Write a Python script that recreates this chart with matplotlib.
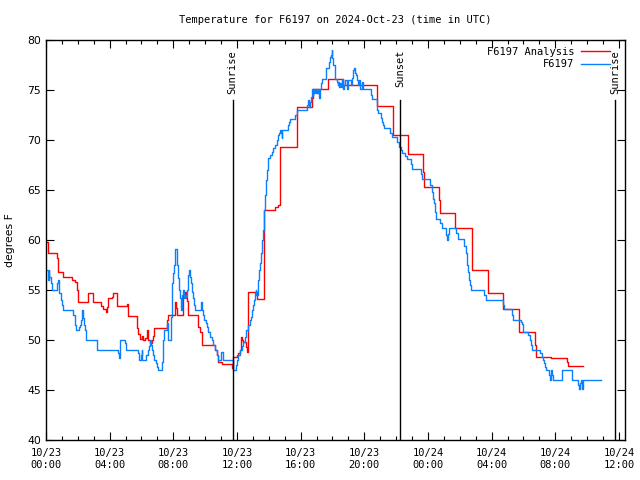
import matplotlib
matplotlib.use("Agg")
import matplotlib.pyplot as plt
import matplotlib.dates as mdates
import pandas as pd

DAY0 = pd.Timestamp("2024-10-23 00:00")

# F6197 Analysis (hours after 10/23 00:00 UTC, deg F), step series
analysis_hours = [
    0.04, 0.14, 0.67, 0.73, 0.77, 1.05, 1.61, 1.82, 1.93, 2.03, 2.66, 2.97,
    3.44, 3.60, 3.75, 3.81, 3.91, 4.13, 4.23, 4.48, 5.11, 5.17, 5.70, 5.75,
    5.90, 6.05, 6.11, 6.22, 6.36, 6.43, 6.53, 6.64, 6.74, 6.80, 7.58, 7.68,
    8.10, 8.17, 8.23, 8.62, 8.73, 8.79, 8.84, 8.90, 9.57, 9.67, 9.82, 10.62,
    10.72, 10.79, 11.07, 11.66, 11.73, 11.98, 12.06, 12.19, 12.25, 12.33,
    12.39, 12.56, 12.63, 12.67, 12.71, 13.23, 13.67, 13.71, 14.38, 14.57,
    14.70, 15.75, 15.79, 16.69, 16.79, 17.73, 18.67, 20.77, 20.81, 21.78,
    22.76, 23.70, 23.74, 24.69, 24.75, 25.69, 26.74, 26.78, 27.78, 28.72,
    29.73, 30.72, 30.76, 31.76, 32.75, 32.81, 33.75,
]
analysis_temp = [
    59.8, 58.7, 58.2, 57.3, 56.8, 56.3, 56.0, 55.8, 55.0, 53.8, 54.7, 53.8,
    53.4, 53.1, 52.8, 53.3, 54.2, 54.3, 54.7, 53.4, 53.6, 52.4, 51.2, 50.6,
    50.1, 50.4, 50.0, 50.2, 51.0, 50.0, 49.7, 50.0, 50.4, 51.2, 52.0, 52.5,
    53.8, 53.2, 52.5, 54.5, 54.8, 54.2, 53.9, 52.5, 51.3, 50.8, 49.5, 49.0,
    48.5, 47.8, 47.6, 47.2, 48.3, 48.5, 48.7, 49.0, 50.3, 50.0,
    49.8, 49.3, 48.8, 51.5, 54.8, 54.1, 61.2, 63.0, 63.3, 63.5,
    69.3, 71.3, 73.3, 74.2, 75.1, 76.1, 75.5, 74.2, 73.4, 70.5,
    68.6, 66.8, 65.3, 64.0, 62.7, 61.2, 60.0, 57.0, 54.7, 53.1,
    50.8, 49.5, 48.3, 48.2, 47.8, 47.4, 47.4,
]

# F6197 observations
obs_hours = [
    0.04, 0.10, 0.17, 0.21, 0.29, 0.36, 0.67, 0.71, 0.77, 0.82, 0.84, 0.92,
    1.03, 1.09, 1.72, 1.82, 1.88, 2.09, 2.14, 2.20, 2.28, 2.34, 2.39, 2.45,
    2.51, 3.18, 4.54, 4.60, 4.67, 4.96, 5.04, 5.80, 5.84, 5.97, 6.01, 6.05,
    6.28, 6.43, 6.47, 6.53, 6.59, 6.64, 6.74, 6.80, 6.89, 6.95, 7.04, 7.27,
    7.33, 7.37, 7.43, 7.62, 7.68, 7.85, 7.89, 7.93, 7.99, 8.06, 8.10, 8.21,
    8.25, 8.31, 8.37, 8.42, 8.46, 8.52, 8.56, 8.62, 8.67, 8.73, 8.79, 8.84,
    8.90, 8.94, 9.00, 9.05, 9.11, 9.15, 9.21, 9.30, 9.36, 9.74, 9.78, 9.88,
    9.94, 10.03, 10.09, 10.19, 10.30, 10.41, 10.51, 10.62, 10.72, 10.79,
    10.99, 11.12, 11.73, 11.92, 11.98, 12.08, 12.19, 12.30, 12.39, 12.50,
    12.56, 12.71, 12.81, 12.88, 12.92, 13.02, 13.08, 13.13, 13.17, 13.21,
    13.34, 13.40, 13.44, 13.51, 13.55, 13.59, 13.65, 13.71, 13.76, 13.80,
    13.86, 13.92, 13.97, 14.07, 14.18, 14.28, 14.38, 14.49, 14.59, 14.65,
    14.70, 14.76, 14.80, 14.84, 15.18, 15.24, 15.33, 15.64, 15.75, 16.38,
    16.48, 16.54, 16.58, 16.63, 16.69, 16.75, 16.79, 16.83, 16.90, 16.96,
    17.00, 17.04, 17.10, 17.17, 17.21, 17.27, 17.32, 17.59, 17.80, 17.84,
    17.90, 17.94, 17.98, 18.00, 18.04, 18.19, 18.26, 18.32, 18.36, 18.40,
    18.47, 18.51, 18.57, 18.63, 18.67, 18.74, 18.78, 18.89, 18.99, 19.14,
    19.20, 19.27, 19.31, 19.37, 19.41, 19.47, 19.51, 19.58, 19.62, 19.68,
    19.72, 19.76, 19.83, 19.89, 19.93, 20.41, 20.46, 20.81, 20.89, 21.02,
    21.09, 21.15, 21.23, 21.61, 21.71, 22.07, 22.19, 22.28, 22.36, 22.55,
    22.66, 22.93, 22.97, 23.56, 23.60, 24.12, 24.23, 24.29, 24.39, 24.44,
    24.48, 24.75, 24.86, 25.11, 25.17, 25.27, 25.31, 25.75, 25.86, 26.26,
    26.36, 26.43, 26.49, 26.57, 26.63, 26.70, 27.53, 27.62, 28.72, 28.77,
    29.25, 29.35, 29.82, 29.88, 29.94, 29.98, 30.29, 30.40, 30.46, 30.55,
    31.03, 31.14, 31.20, 31.28, 31.34, 31.41, 31.61, 31.66, 31.70, 31.76,
    31.80, 31.86, 32.45, 33.02, 33.08, 33.44, 33.48, 33.54, 33.59, 33.65,
    33.69, 33.73, 34.90,
]
obs_temp = [
    57.0, 56.0, 57.0, 56.3, 55.7, 55.0, 55.3, 55.7, 56.0, 55.5, 54.7, 54.0,
    53.5, 53.0, 52.5, 51.5, 51.0, 51.3, 51.5, 52.0, 53.0, 52.2, 51.5, 51.0,
    50.0, 49.0, 48.7, 48.2, 50.0, 49.7, 49.0, 48.7, 48.0, 48.5, 49.0, 48.0,
    48.5, 49.0, 49.4, 50.0, 49.5, 49.0, 48.5, 48.0, 47.7, 47.3, 47.0, 47.8,
    48.7, 50.0, 51.0, 51.7, 50.0, 52.3, 54.0, 55.7, 56.7, 57.5, 59.1, 58.2,
    57.5, 56.2, 55.0, 54.2, 53.0, 53.8, 54.5, 55.0, 54.2, 54.5, 54.3, 55.0,
    55.8, 56.5, 57.0, 56.3, 55.7, 54.8, 54.2, 53.5, 53.0, 53.8, 53.0, 52.5,
    52.0, 51.7, 51.3, 50.8, 50.3, 50.0, 49.5, 49.0, 48.5, 48.0,
    48.8, 48.0, 47.0, 47.5, 48.0, 48.5, 49.0, 49.4, 49.8, 50.3,
    51.0, 51.5, 52.0, 52.3, 53.0, 53.5, 54.0, 54.7, 55.0, 54.5,
    56.0, 57.0, 57.7, 58.7, 59.3, 60.0, 61.0, 63.0, 64.5, 66.0,
    67.0, 67.8, 68.2, 68.5, 68.8, 69.2, 69.5, 70.0, 70.5, 70.7,
    71.0, 70.7, 70.2, 71.0, 71.5, 71.8, 72.1, 72.5, 73.0, 73.5,
    74.0, 73.3, 73.8, 74.3, 75.1, 74.5, 75.1, 74.7, 75.1, 74.7,
    75.1, 74.7, 75.1, 74.2, 75.1, 75.7, 76.1, 77.2, 77.8, 78.3,
    78.5, 79.0, 78.6, 78.2, 77.5, 76.1, 75.8, 75.5, 75.8, 75.3,
    75.7, 75.3, 76.1, 75.5, 75.1, 75.5, 76.0, 75.1, 76.0, 75.5,
    76.2, 76.7, 77.0, 77.2, 76.7, 76.5, 76.0, 75.7, 75.5, 76.0,
    75.5, 75.1, 75.8, 75.5, 75.1, 74.5, 74.1, 73.0, 72.7, 72.2,
    71.8, 71.5, 71.2, 70.7, 70.3, 69.8, 69.3, 69.0, 68.7, 68.4,
    68.1, 67.6, 67.1, 66.6, 66.1, 65.5, 64.8, 64.1, 63.7, 62.8,
    62.1, 61.7, 61.2, 60.5, 60.0, 60.6, 61.2, 60.7, 60.1, 59.4,
    58.7, 57.5, 56.8, 56.0, 55.5, 55.0, 54.5, 54.0, 53.5, 53.1,
    52.5, 52.0, 51.8, 51.6, 51.3, 50.8, 50.5, 50.0, 49.5, 49.0,
    48.7, 48.3, 48.0, 47.7, 47.3, 47.0, 46.5, 46.0, 46.5, 47.0,
    46.5, 46.0, 47.0, 46.5, 46.0, 45.5, 45.1, 45.7, 46.0, 45.5,
    45.1, 46.0, 46.0,
]

# sun events
event_hours = [11.73, 22.24, 35.74]
event_labels = ["Sunrise", "Sunset", "Sunrise"]


def to_time(hours):
    return DAY0 + pd.to_timedelta(hours, unit="h")


mono = "DejaVu Sans Mono"

fig = plt.figure(figsize=(6.4, 4.8), dpi=100)
ax = fig.add_axes([46 / 640, 40 / 480, 579 / 640, 400 / 480])

ax.plot(to_time(analysis_hours), analysis_temp, drawstyle="steps-post",
        color="#ff0000", lw=1.0, label="F6197 Analysis")
ax.plot(to_time(obs_hours), obs_temp, drawstyle="steps-post",
        color="#0a80ff", lw=1.0, label="F6197")

for h, lab in zip(event_hours, event_labels):
    t = to_time(h)
    ax.axvline(t, ymin=0, ymax=0.85, color="black", lw=1.0)
    ax.text(t, 0.975, lab, transform=ax.get_xaxis_transform(), rotation=90,
            ha="center", va="top", family=mono, fontsize=7.5)

ax.set_xlim(to_time(0), to_time(36.38))
ax.set_ylim(40, 80)
ax.set_yticks(range(40, 81, 5))

ax.xaxis.set_major_locator(mdates.HourLocator(byhour=range(0, 24, 4)))
ax.xaxis.set_minor_locator(mdates.HourLocator())
ax.xaxis.set_major_formatter(mdates.DateFormatter("%m/%d\n%H:%M"))

ax.tick_params(which="both", direction="in", top=True, right=True, width=0.8)
ax.tick_params(which="major", length=6)
ax.tick_params(which="minor", length=3)
ax.tick_params(axis="x", pad=6)
for lab in ax.get_xticklabels():
    lab.set_family(mono)
    lab.set_fontsize(7.5)
for lab in ax.get_yticklabels():
    lab.set_fontsize(7.8)

for s in ax.spines.values():
    s.set_linewidth(1.0)

ax.set_ylabel("degrees F", fontsize=7.8, labelpad=9)
ax.set_title("Temperature for F6197 on 2024-Oct-23 (time in UTC)",
             family=mono, fontsize=7.5, pad=12)

leg = ax.legend(loc="upper right", frameon=False, markerfirst=False,
                alignment="right", prop={"family": mono, "size": 7.5},
                handlelength=2.8, handletextpad=0.6, labelspacing=0.25,
                borderaxespad=0, borderpad=0, bbox_to_anchor=(0.974, 0.983))

fig.savefig("out.png", dpi=100)
